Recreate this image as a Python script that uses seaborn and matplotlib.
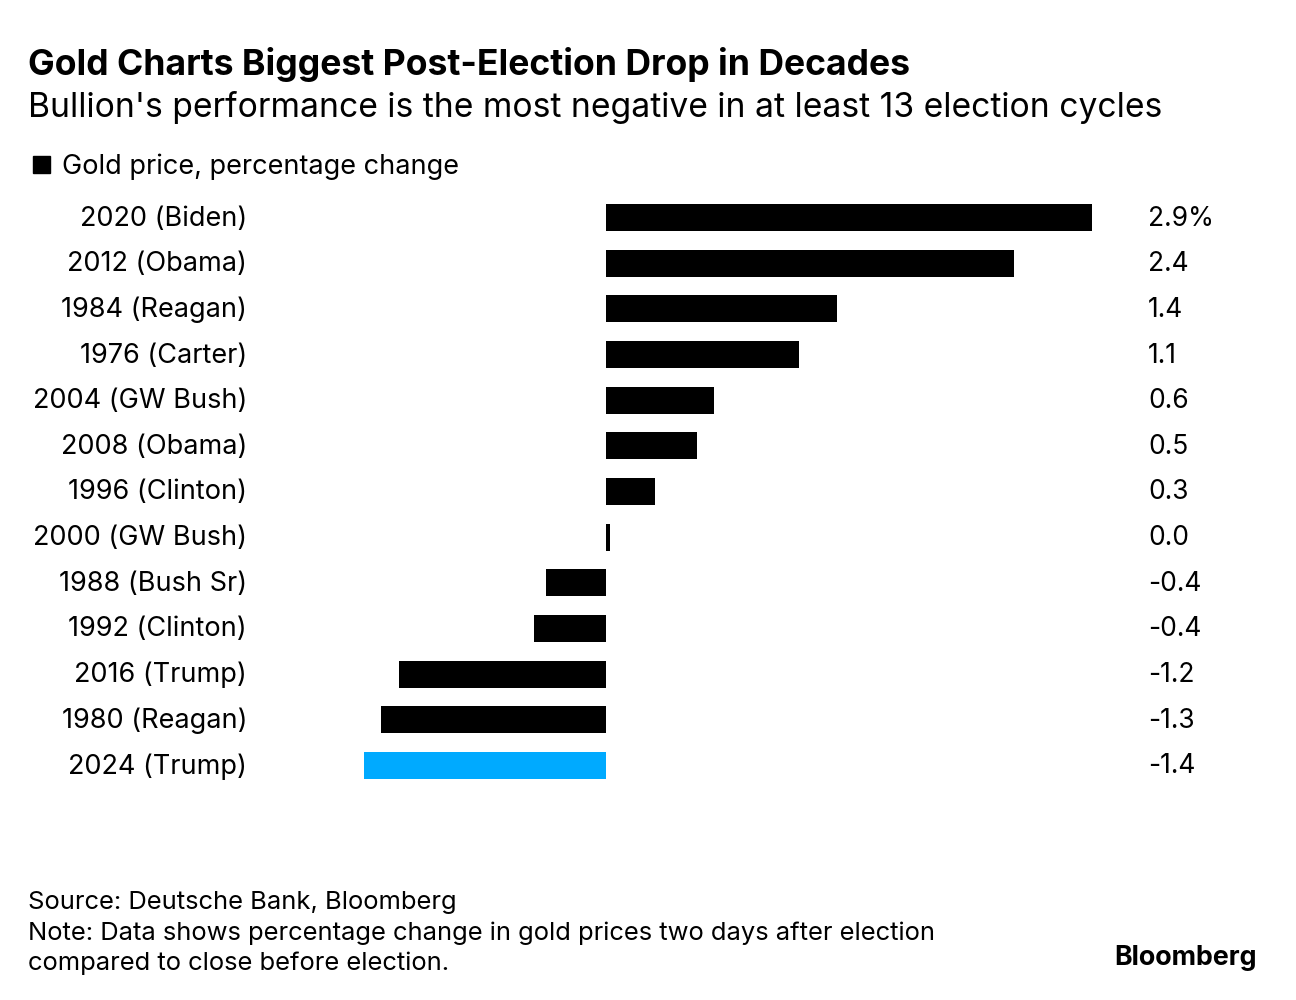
import matplotlib
matplotlib.use("Agg")
import matplotlib.pyplot as plt
import matplotlib.transforms as mtransforms
import seaborn as sns
import pandas as pd

categories = ["2020 (Biden)", "2012 (Obama)", "1984 (Reagan)", "1976 (Carter)",
              "2004 (GW Bush)", "2008 (Obama)", "1996 (Clinton)", "2000 (GW Bush)",
              "1988 (Bush Sr)", "1992 (Clinton)", "2016 (Trump)", "1980 (Reagan)",
              "2024 (Trump)"]
values = [2.88, 2.42, 1.37, 1.14, 0.64, 0.54, 0.29, 0.02, -0.36, -0.43, -1.23, -1.34, -1.44]
value_labels = ["2.9%", "2.4", "1.4", "1.1", "0.6", "0.5", "0.3", "0.0",
                "-0.4", "-0.4", "-1.2", "-1.3", "-1.4"]
highlight = ["other"] * 12 + ["current"]

sns.set_theme(style="white")
plt.rcParams["font.family"] = ["Inter", "DejaVu Sans"]

W, H = 1296, 1000
fig = plt.figure(figsize=(W / 100, H / 100), dpi=100)

x0_px, x1_px = 606.5 - 1.44 * 168.5, 606.5 + 2.88 * 168.5
top_px, bot_px = 217.5 - 22.83, 765.5 + 22.83
ax = fig.add_axes([x0_px / W, 1 - bot_px / H, (x1_px - x0_px) / W, (bot_px - top_px) / H])

df = pd.DataFrame({"cat": categories, "val": values, "grp": highlight})
sns.barplot(data=df, x="val", y="cat", hue="grp", order=categories,
            palette={"other": "#000000", "current": "#00AAFF"},
            width=0.59, legend=False, ax=ax, saturation=1, linewidth=0)
ax.set_xlim(min(values), max(values))
ax.set_ylim(len(categories) - 0.5, -0.5)
ax.axis("off")

trans = mtransforms.blended_transform_factory(fig.transFigure, ax.transData)
shift = mtransforms.ScaledTranslation(0, 2 / 100, fig.dpi_scale_trans)
for i, c in enumerate(categories):
    ax.text(247 / W, i, c, transform=trans + shift, ha="right", va="center_baseline",
            fontsize=19.5, color="#000000")
for i, lab in enumerate(value_labels):
    ax.text(1148 / W, i, lab, transform=trans + shift, ha="left", va="center_baseline",
            fontsize=19, color="#000000")

fig.text(28 / W, 1 - 61.5 / H, "Gold Charts Biggest Post-Election Drop in Decades",
         fontsize=25.6, fontweight="bold", ha="left", va="center_baseline", color="#000000")
fig.text(28 / W, 1 - 104 / H,
         "Bullion's performance is the most negative in at least 13 election cycles",
         fontsize=24.2, ha="left", va="center_baseline", color="#000000")

# legend
fig.patches.append(plt.Rectangle((33 / W, 1 - 173 / H), 17 / W, 17 / H,
                                 transform=fig.transFigure, color="#000000"))
fig.text(62 / W, 1 - 164 / H, "Gold price, percentage change",
         fontsize=19.5, ha="left", va="center_baseline", color="#000000")

fig.text(28 / W, 1 - 900 / H, "Source: Deutsche Bank, Bloomberg",
         fontsize=18.4, ha="left", va="center_baseline", color="#000000")
fig.text(28 / W, 1 - 931 / H,
         "Note: Data shows percentage change in gold prices two days after election",
         fontsize=18.4, ha="left", va="center_baseline", color="#000000")
fig.text(28 / W, 1 - 961 / H, "compared to close before election.",
         fontsize=18.4, ha="left", va="center_baseline", color="#000000")
fig.text(1257 / W, 1 - 955 / H, "Bloomberg", fontsize=19.3, fontweight="bold",
         ha="right", va="center_baseline", color="#000000")

fig.savefig("out.png", dpi=100)
